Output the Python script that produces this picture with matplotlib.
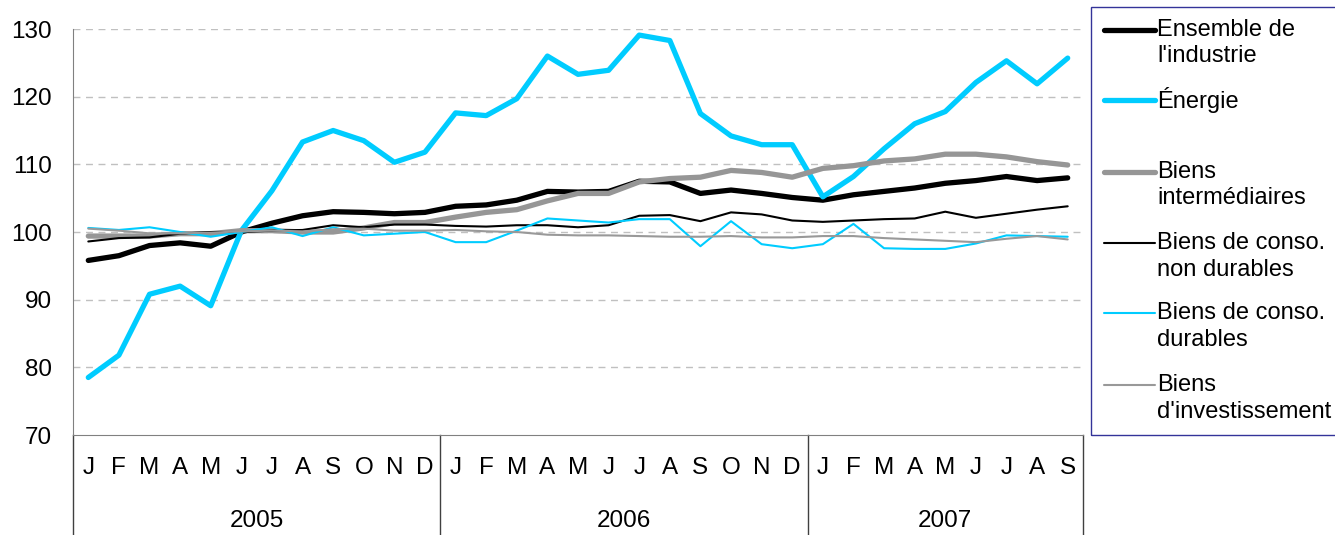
import matplotlib
matplotlib.use('Agg')
import matplotlib.pyplot as plt
from matplotlib.lines import Line2D
from matplotlib.patches import Rectangle
import matplotlib.transforms as mtransforms

plt.rcParams['font.family'] = ['Liberation Sans', 'DejaVu Sans']

# DATA

months = ['J', 'F', 'M', 'A', 'M', 'J', 'J', 'A', 'S', 'O', 'N', 'D'] * 2 + \
    ['J', 'F', 'M', 'A', 'M', 'J', 'J', 'A', 'S']
years = ['2005', '2006', '2007']

ensemble = [95.8, 96.5, 98.0, 98.4, 97.9, 100.0, 101.3, 102.4, 103.0, 102.9, 102.7, 102.9,
            103.8, 104.0, 104.7, 106.0, 105.9, 106.0, 107.5, 107.4, 105.7, 106.2, 105.7, 105.1,
            104.7, 105.5, 106.0, 106.5, 107.2, 107.6, 108.2, 107.6, 108.0]
energie = [78.5, 81.8, 90.8, 92.0, 89.1, 100.2, 106.1, 113.3, 115.0, 113.5, 110.3, 111.8,
           117.6, 117.2, 119.7, 126.0, 123.3, 123.9, 129.1, 128.3, 117.5, 114.2, 112.9, 112.9,
           105.2, 108.2, 112.3, 116.0, 117.8, 122.1, 125.3, 121.9, 125.7]
intermediaires = [99.4, 99.4, 99.4, 99.75, 99.75, 100.2, 100.2, 100.0, 100.0, 100.6, 101.4, 101.4,
                  102.2, 102.9, 103.3, 104.6, 105.7, 105.7, 107.4, 107.9, 108.1, 109.1, 108.8, 108.1,
                  109.4, 109.8, 110.5, 110.8, 111.5, 111.5, 111.1, 110.4, 109.9]
non_durables = [98.6, 99.1, 99.2, 99.75, 100.0, 100.0, 100.2, 100.3, 101.0, 100.7, 101.1, 101.1,
                100.9, 100.8, 101.0, 101.0, 100.7, 101.0, 102.4, 102.5, 101.6, 102.9, 102.6, 101.7,
                101.5, 101.7, 101.9, 102.0, 103.0, 102.1, 102.7, 103.3, 103.8]
durables = [100.6, 100.3, 100.7, 100.0, 99.3, 100.0, 100.7, 99.4, 100.7, 99.5, 99.75, 100.0,
            98.5, 98.5, 100.2, 102.0, 101.7, 101.4, 101.9, 101.9, 97.9, 101.6, 98.2, 97.6,
            98.2, 101.2, 97.6, 97.5, 97.5, 98.3, 99.5, 99.4, 99.3]
investissement = [100.5, 100.2, 99.8, 99.8, 99.9, 100.1, 100.2, 100.1, 100.4, 100.5, 100.2, 100.2,
                  100.3, 100.1, 100.0, 99.6, 99.5, 99.5, 99.4, 99.3, 99.3, 99.4, 99.2, 99.2,
                  99.4, 99.4, 99.1, 98.9, 98.7, 98.5, 99.0, 99.4, 98.9]

series = [
    ("Ensemble de\nl'industrie", ensemble, '#000000', 3.8),
    ("Énergie", energie, '#00CCFF', 3.8),
    ("Biens\nintermédiaires", intermediaires, '#969696', 3.8),
    ("Biens de conso.\nnon durables", non_durables, '#000000', 1.5),
    ("Biens de conso.\ndurables", durables, '#00CCFF', 1.5),
    ("Biens\nd'investissement", investissement, '#999999', 1.5),
]

FS = 17.5

# PLOTTING

W, H = 1335, 535
fig = plt.figure(figsize=(W / 100, H / 100), dpi=100)
ax = fig.add_axes([73 / W, 1 - 435 / H, 1010 / W, 406 / H])

x = list(range(len(months)))
for label, vals, color, lw in series:
    ax.plot(x, vals, color=color, lw=lw, solid_capstyle='round', solid_joinstyle='round')

ax.set_xlim(-0.5, len(months) - 0.5)
ax.set_ylim(70, 130)
ax.set_yticks(range(70, 131, 10))
ax.tick_params(axis='y', length=0, labelsize=FS, pad=15)
ax.set_xticks(x)
ax.set_xticklabels(months, fontsize=FS)
ax.tick_params(axis='x', length=0, pad=16)

for y in range(80, 131, 10):
    ax.axhline(y, color='#C0C0C0', lw=1, ls=(0, (5, 4)), zorder=0)

for s in ['top', 'right']:
    ax.spines[s].set_visible(False)
ax.spines['left'].set_color('#808080')
ax.spines['bottom'].set_color('#808080')

# year separators and labels below the axis
trans = mtransforms.blended_transform_factory(ax.transData, ax.transAxes)
for xs in [-0.5, 11.5, 23.5, len(months) - 0.5]:
    ax.add_line(Line2D([xs, xs], [0, -0.25], transform=trans, color='#404040',
                       lw=1, clip_on=False))
for i, yr in enumerate(years):
    start = i * 12 - 0.5
    end = min(start + 12, len(months) - 0.5)
    ax.text((start + end) / 2, -0.212, yr, transform=trans, ha='center', va='center',
            fontsize=FS)

# LEGEND (drawn by hand, text top-aligned to the line sample)
fig.add_artist(Rectangle((1091 / W, 1 - 435 / H), 300 / W, 428 / H, transform=fig.transFigure,
                         fill=False, edgecolor='#333399', lw=1, clip_on=False))
leg_y = [30, 100, 172, 243, 313, 385]
for (label, vals, color, lw), yp in zip(series, leg_y):
    fy = 1 - yp / H
    fig.add_artist(Line2D([1104 / W, 1155 / W], [fy, fy], transform=fig.transFigure,
                          color=color, lw=lw, solid_capstyle='round'))
    for k, line in enumerate(label.split('\n')):
        fig.text(1157 / W, 1 - (yp + k * 26.5) / H, line, ha='left', va='center', fontsize=17)

fig.savefig('out.png', dpi=100)
